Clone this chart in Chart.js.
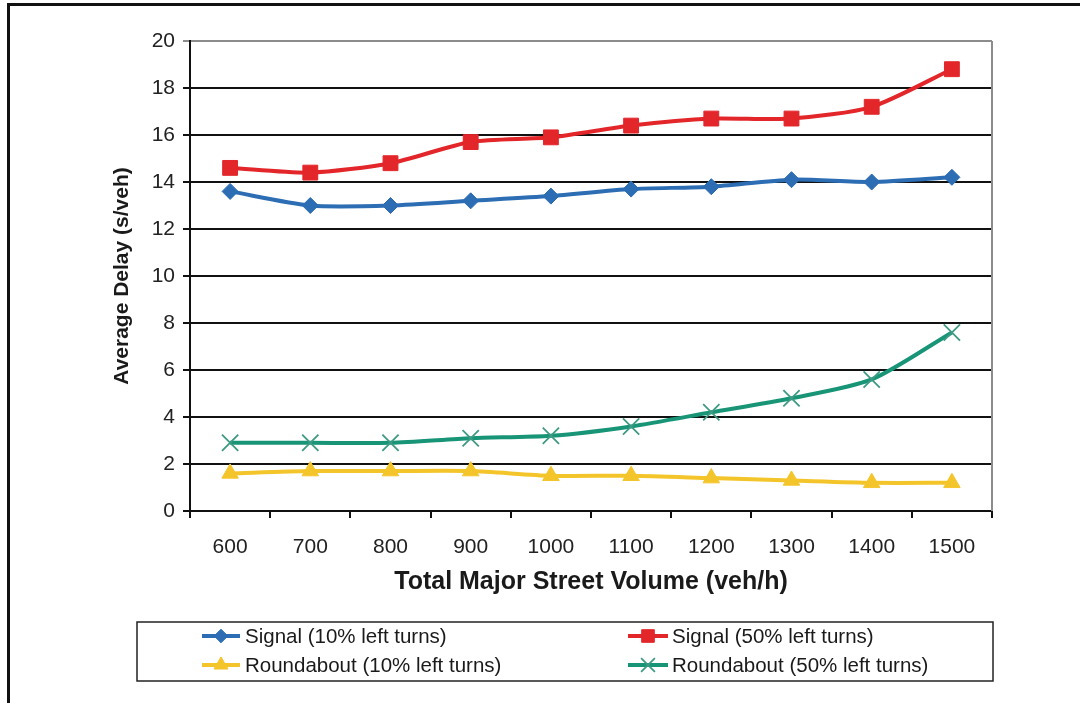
<!DOCTYPE html>
<html>
<head>
<meta charset="utf-8">
<script src="https://cdn.jsdelivr.net/npm/chart.js@4.4.1/dist/chart.umd.min.js"></script>
<style>
  html, body { margin: 0; padding: 0; background: #ffffff; }
  #wrap { width: 1080px; height: 703px; position: relative; }
</style>
</head>
<body>
<div id="wrap"><canvas id="c" width="1080" height="703"></canvas></div>
<script>
// Total major street volume (veh/h)
const volumes = ['600', '700', '800', '900', '1000', '1100', '1200', '1300', '1400', '1500'];

// Average delay (s/veh) per control type and left-turn share
const signal10 = [13.6, 13.0, 13.0, 13.2, 13.4, 13.7, 13.8, 14.1, 14.0, 14.2];
const signal50 = [14.6, 14.4, 14.8, 15.7, 15.9, 16.4, 16.7, 16.7, 17.2, 18.8];
const roundabout10 = [1.6, 1.7, 1.7, 1.7, 1.5, 1.5, 1.4, 1.3, 1.2, 1.2];
const roundabout50 = [2.9, 2.9, 2.9, 3.1, 3.2, 3.6, 4.2, 4.8, 5.6, 7.6];

const seriesNames = [
  'Signal (10% left turns)',
  'Signal (50% left turns)',
  'Roundabout (10% left turns)',
  'Roundabout (50% left turns)'
];

const delayMin = 0;
const delayMax = 20;
const delayStep = 2;

const FONT = '"Liberation Sans", Arial, Helvetica, sans-serif';

// Border around the whole figure, plot-area frame and the boxed legend
const framePlugin = {
  id: 'frame',
  beforeDraw(chart) {
    const ctx = chart.ctx;
    ctx.save();
    ctx.fillStyle = '#ffffff';
    ctx.fillRect(0, 0, chart.width, chart.height);
    ctx.restore();
  },
  afterDatasetsDraw(chart) {
    const { ctx, chartArea } = chart;
    ctx.save();
    ctx.strokeStyle = '#8c8c8c';
    ctx.lineWidth = 2;
    ctx.beginPath();
    ctx.moveTo(chartArea.right, chartArea.top);
    ctx.lineTo(chartArea.right, chartArea.bottom);
    ctx.stroke();
    ctx.restore();
  },
  afterDraw(chart) {
    const ctx = chart.ctx;
    ctx.save();
    // outer figure border
    ctx.strokeStyle = '#111111';
    ctx.lineWidth = 3;
    ctx.strokeRect(8.5, 4.5, chart.width + 20, chart.height + 20);

    // legend box
    const box = { left: 137, top: 622, right: 993, bottom: 681 };
    ctx.lineWidth = 1.5;
    ctx.strokeStyle = '#222222';
    ctx.strokeRect(box.left, box.top, box.right - box.left, box.bottom - box.top);

    const cols = [{ x0: 202, x1: 240, tx: 245 }, { x0: 628, x1: 668, tx: 672 }];
    const rows = [636, 665];
    chart.data.datasets.forEach((ds, i) => {
      const col = cols[i % 2];
      const y = rows[Math.floor(i / 2)];
      ctx.strokeStyle = ds.borderColor;
      ctx.lineWidth = 4;
      ctx.lineCap = 'butt';
      ctx.beginPath();
      ctx.moveTo(col.x0, y);
      ctx.lineTo(col.x1, y);
      ctx.stroke();
      ctx.fillStyle = ds.pointBackgroundColor;
      ctx.strokeStyle = ds.pointBorderColor;
      ctx.lineWidth = ds.pointBorderWidth;
      Chart.helpers.drawPoint(ctx, {
        pointStyle: ds.pointStyle,
        radius: ds.pointRadius * 0.85,
        rotation: 0,
        borderWidth: ds.pointBorderWidth
      }, (col.x0 + col.x1) / 2, y);
      ctx.fillStyle = '#1a1a1a';
      ctx.font = '20.5px ' + FONT;
      ctx.textBaseline = 'middle';
      ctx.textAlign = 'left';
      ctx.fillText(ds.label, col.tx, y + 1);
    });
    ctx.restore();
  }
};

const BLUE = '#2c6db4';
const RED = '#e3262a';
const YELLOW = '#f4c52a';
const GREEN = '#189577';

function series(label, data, color, style, radius, borderW, pointBorder) {
  return {
    label,
    data,
    borderColor: color,
    backgroundColor: color,
    borderWidth: 4,
    tension: 0.25,
    pointStyle: style,
    pointRadius: radius,
    pointHoverRadius: radius,
    pointBackgroundColor: color,
    pointBorderColor: pointBorder || color,
    pointBorderWidth: borderW,
    fill: false
  };
}

new Chart(document.getElementById('c'), {
  type: 'line',
  data: {
    labels: volumes,
    datasets: [
      series(seriesNames[0], signal10, BLUE, 'rectRot', 8, 1),
      series(seriesNames[1], signal50, RED, 'rect', 10.5, 1),
      series(seriesNames[2], roundabout10, YELLOW, 'triangle', 9.5, 1),
      series(seriesNames[3], roundabout50, GREEN, 'crossRot', 11.5, 1.8, '#3f9a84')
    ]
  },
  options: {
    responsive: false,
    animation: false,
    devicePixelRatio: 1,
    layout: { padding: { left: 100, top: 41, right: 88, bottom: 103 } },
    plugins: {
      legend: { display: false },
      tooltip: { enabled: false },
      title: { display: false }
    },
    scales: {
      x: {
        type: 'category',
        offset: true,
        afterFit(scale) { scale.height = 89; },
        grid: {
          offset: true,
          drawOnChartArea: false,
          drawTicks: true,
          tickLength: 7,
          color: '#111111',
          lineWidth: 2
        },
        border: { display: true, color: '#111111', width: 2 },
        ticks: {
          color: '#222222',
          font: { family: FONT, size: 21 },
          padding: 17,
          maxRotation: 0,
          autoSkip: false
        },
        title: {
          display: true,
          text: 'Total Major Street Volume (veh/h)',
          color: '#1a1a1a',
          font: { family: FONT, size: 25, weight: 'bold' },
          padding: { top: 0, bottom: 3 }
        }
      },
      y: {
        min: delayMin,
        max: delayMax,
        afterFit(scale) { scale.width = 90; },
        grid: {
          drawTicks: true,
          tickLength: 7,
          color: (c) => (c.tick && c.tick.value === delayMax ? '#8c8c8c' : '#111111'),
          lineWidth: 2
        },
        border: { display: true, color: '#111111', width: 2 },
        ticks: {
          stepSize: delayStep,
          color: '#222222',
          font: { family: FONT, size: 21 },
          padding: 8
        },
        title: {
          display: true,
          text: 'Average Delay (s/veh)',
          color: '#1a1a1a',
          font: { family: FONT, size: 21, weight: 'bold' },
          padding: { top: 10, bottom: 0 }
        }
      }
    }
  },
  plugins: [framePlugin]
});
</script>
</body>
</html>
